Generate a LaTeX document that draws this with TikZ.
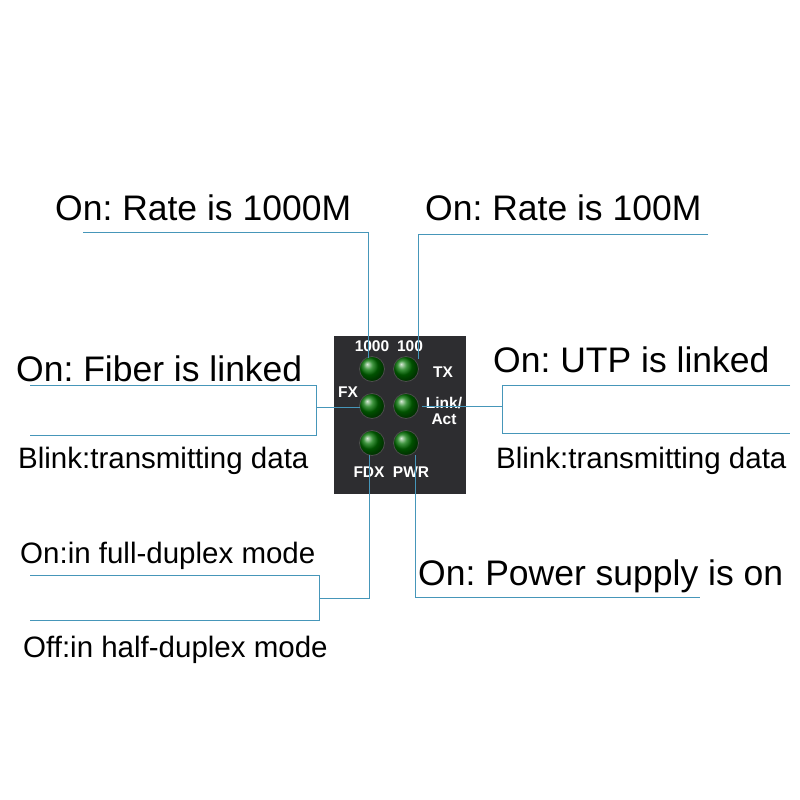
\documentclass[tikz,border=0pt]{standalone}
\usepackage{fontspec}
\setmainfont{Liberation Sans}
\frenchspacing
\begin{document}
\begin{tikzpicture}[x=1pt,y=-1pt,
  ln/.style={draw=lc,line width=0.9pt},
  big/.style={anchor=base west,inner sep=0,font=\fontsize{35.5}{37}\selectfont},
  sm/.style={anchor=base west,inner sep=0,font=\fontsize{29.5}{31}\selectfont},
  pl/.style={text=white,font=\bfseries\fontsize{15.5}{16}\selectfont,inner sep=0},
  led/.style={circle,minimum size=25pt,inner sep=0,draw=black!70,line width=0.8pt,
     ball color=green!45!black}]
\definecolor{lc}{RGB}{70,150,185}
\definecolor{pan}{RGB}{45,45,48}
\useasboundingbox (0,0) rectangle (800,800);
\fill[white] (0,0) rectangle (800,800);
\fill[pan] (334,336) rectangle (466,494);
\node[led] (l1) at (372,369) {};
\node[led] (l2) at (406,369) {};
\node[led] (l3) at (372,406) {};
\node[led] (l4) at (406,406) {};
\node[led] (l5) at (372,443) {};
\node[led] (l6) at (406,443) {};
\node[pl] (t1) at (372,346) {1000};
\node[pl] (t2) at (410,346) {100};
\node[pl] (t3) at (443,372) {TX};
\node[pl] (t4) at (348,392) {FX};
\node[pl] (t5) at (444,403) {Link/};
\node[pl] (t6) at (444,419) {Act};
\node[pl] (t7) at (369,472) {FDX};
\node[pl] (t8) at (411,472) {PWR};
\node[big] (a) at (55,220) {On: Rate is 1000M};
\node[big] (b) at (425,220) {On: Rate is 100M};
\node[big] (c) at (16,381) {On: Fiber is linked};
\node[sm] (d) at (18,468) {Blink:transmitting data};
\node[big] (e) at (493,372) {On: UTP is linked};
\node[sm] (f) at (496,468) {Blink:transmitting data};
\node[sm] (g) at (20,563) {On:in full-duplex mode};
\node[sm] (h) at (23,657) {Off:in half-duplex mode};
\node[big] (i) at (418,585) {On: Power supply is on};
\coordinate (a1) at (83,232); \coordinate (a2) at (368,232);
\draw[ln] (a1) -- (a2) -- (368,358);
\draw[ln] (708,234) -- (418,234) -- (418,359);
\draw[ln] (30,385) -- (316,385) -- (316,435) -- (30,435);
\draw[ln] (316,407) -- (360,407);
\draw[ln] (790,385) -- (502,385) -- (502,433) -- (790,433);
\draw[ln] (502,406) -- (422,406);
\draw[ln] (369,455) -- (369,598) -- (319,598);
\draw[ln] (30,575) -- (319,575) -- (319,620) -- (30,620);
\draw[ln] (415,455) -- (415,597) -- (700,597);
\end{tikzpicture}
\end{document}
